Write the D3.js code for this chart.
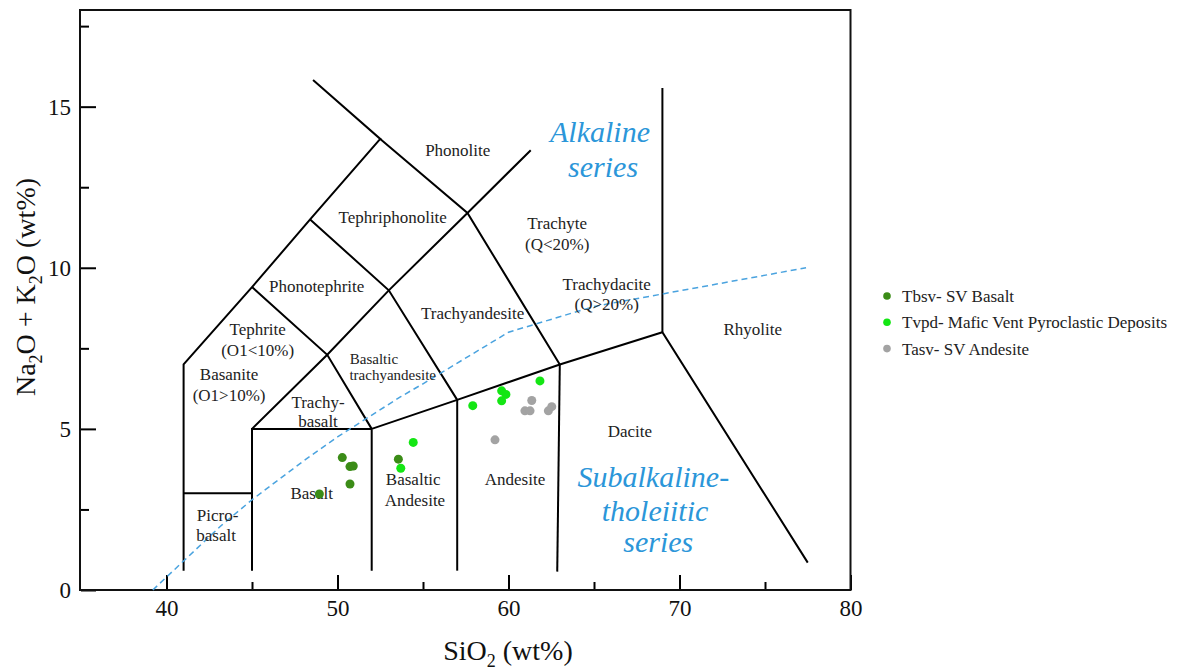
<!DOCTYPE html>
<html>
<head>
<meta charset="utf-8">
<script src="https://cdn.jsdelivr.net/npm/d3@7"></script>
<style>
  body { margin: 0; background: #fff; }
  svg { display: block; font-family: "Liberation Serif", "Times New Roman", serif; }
  svg text { font-family: "Liberation Serif", "Times New Roman", serif; }
</style>
</head>
<body>
<svg id="chart" width="1194" height="671"></svg>
<script>

// sample values (SiO2, Na2O+K2O in wt%)
var tbsvSiO2 = [50.28, 50.73, 50.92, 50.73, 48.94, 53.56];
var tbsvAlk = [4.11, 3.83, 3.85, 3.29, 2.98, 4.06];
var tvpdSiO2 = [54.43, 53.70, 57.91, 59.60, 59.85, 59.60, 61.84];
var tvpdAlk = [4.58, 3.78, 5.72, 6.18, 6.07, 5.87, 6.49];
var tasvSiO2 = [61.36, 60.96, 61.26, 62.33, 62.53, 59.21];
var tasvAlk = [5.88, 5.56, 5.56, 5.56, 5.69, 4.66];

var seriesNames = ["Tbsv- SV Basalt", "Tvpd- Mafic Vent Pyroclastic Deposits", "Tasv- SV Andesite"];
var seriesColors = ["#3b8c17", "#14e614", "#a3a3a3"];

// tick values
var xMajor = [40, 50, 60, 70, 80];
var xMinor = [45, 55, 65, 75];
var yMajor = [0, 5, 10, 15];
var yMinor = [2.5, 7.5, 12.5, 17.5];

// TAS field boundaries (Le Bas et al.)
var tasLines = [
  [[41, 0.6], [41, 7], [45, 9.4], [48.4, 11.5], [52.5, 14], [48.57, 15.83]],
  [[41, 3], [45, 3]],
  [[45, 0.6], [45, 5], [52, 5]],
  [[45, 5], [49.4, 7.3], [53, 9.3], [57.6, 11.7], [61.3, 13.65]],
  [[45, 9.4], [49.4, 7.3], [52, 5]],
  [[48.4, 11.5], [53, 9.3], [57, 5.9]],
  [[52.5, 14], [57.6, 11.7], [63, 7]],
  [[52, 0.6], [52, 5], [57, 5.9], [63, 7], [69, 8], [77.5, 0.85]],
  [[57, 0.6], [57, 5.9]],
  [[62.85, 0.57], [63, 7]],
  [[69, 8], [69, 15.58]]
];

// alkaline / subalkaline divide (Irvine & Baragar)
var divideSiO2 = [39.2, 40, 43.2, 45, 48, 50, 53.7, 55, 60, 65, 77.4];
var divideAlk = [0, 0.4, 2, 2.8, 4, 4.75, 6, 6.4, 8, 8.8, 10];

// field names: text, SiO2, alkali, size
var fieldLabels = [
  ["Phonolite", 57.03, 13.65, 17],
  ["Tephriphonolite", 53.23, 11.58, 17],
  ["Trachyte", 62.85, 11.38, 17],
  ["(Q<20%)", 62.85, 10.75, 17],
  ["Phonotephrite", 48.78, 9.44, 17],
  ["Trachyandesite", 57.9, 8.6, 17],
  ["Trachydacite", 65.74, 9.5, 17],
  ["(Q>20%)", 65.74, 8.88, 17],
  ["Rhyolite", 74.28, 8.09, 17],
  ["Tephrite", 45.33, 8.09, 17],
  ["(O1<10%)", 45.33, 7.45, 17],
  ["Basanite", 43.66, 6.70, 17],
  ["(O1>10%)", 43.66, 6.05, 17],
  ["Basaltic", 52.13, 7.19, 15],
  ["trachyandesite", 53.23, 6.67, 15],
  ["Trachy-", 48.86, 5.84, 17],
  ["basalt", 48.86, 5.25, 17],
  ["Basalt", 48.49, 3.0, 17],
  ["Basaltic", 54.43, 3.44, 17],
  ["Andesite", 54.53, 2.79, 17],
  ["Andesite", 60.38, 3.44, 17],
  ["Dacite", 67.1, 4.93, 17],
  ["Picro-", 42.99, 2.33, 17],
  ["basalt", 42.9, 1.71, 17]
];

var seriesText = [
  ["Alkaline", 65.35, 14.22],
  ["series", 65.53, 13.13],
  ["Subalkaline-", 68.47, 3.52],
  ["tholeiitic", 68.57, 2.48],
  ["series", 68.76, 1.5]
];

var svg = d3.select("#chart");

var x = d3.scaleLinear().domain([35, 80]).range([81, 850.5]);
var y = d3.scaleLinear().domain([0, 18]).range([590, 10]);

// ticks (inward)
svg.append("g")
  .attr("transform", "translate(0,590)")
  .call(d3.axisBottom(x).tickValues(xMajor).tickSize(-15).tickPadding(10))
  .call(function (g) {
    g.select(".domain").remove();
    g.selectAll("line").attr("stroke", "#000").attr("stroke-width", 2);
    g.selectAll("text").attr("font-size", 23).attr("fill", "#111");
  });
svg.append("g")
  .attr("transform", "translate(0,590)")
  .call(d3.axisBottom(x).tickValues(xMinor).tickSize(-8).tickFormat(""))
  .call(function (g) {
    g.select(".domain").remove();
    g.selectAll("line").attr("stroke", "#000").attr("stroke-width", 2);
  });
svg.append("g")
  .attr("transform", "translate(81,0)")
  .call(d3.axisLeft(y).tickValues(yMajor).tickSize(-15).tickPadding(10))
  .call(function (g) {
    g.select(".domain").remove();
    g.selectAll("line").attr("stroke", "#000").attr("stroke-width", 2);
    g.selectAll("text").attr("font-size", 23).attr("fill", "#111");
  });
svg.append("g")
  .attr("transform", "translate(81,0)")
  .call(d3.axisLeft(y).tickValues(yMinor).tickSize(-8).tickFormat(""))
  .call(function (g) {
    g.select(".domain").remove();
    g.selectAll("line").attr("stroke", "#000").attr("stroke-width", 2);
  });

// frame
svg.append("rect")
  .attr("x", x(35) - 1).attr("y", y(18))
  .attr("width", x(80) - x(35) + 1).attr("height", y(0) - y(18))
  .attr("fill", "none").attr("stroke", "#111").attr("stroke-width", 2);

var line = d3.line().x(function (d) { return x(d[0]); }).y(function (d) { return y(d[1]); });

// field boundaries
svg.append("g").selectAll("path")
  .data(tasLines)
  .enter()
  .append("path")
  .attr("d", line)
  .attr("fill", "none")
  .attr("stroke", "#000")
  .attr("stroke-width", 2)
  .attr("stroke-linejoin", "miter");

// dashed divide
var divide = divideSiO2.map(function (s, i) { return [s, divideAlk[i]]; });
svg.append("path")
  .datum(divide)
  .attr("d", line)
  .attr("fill", "none")
  .attr("stroke", "#4aa3df")
  .attr("stroke-width", 1.5)
  .attr("stroke-dasharray", "6,4");

// field names
svg.append("g").selectAll("text")
  .data(fieldLabels)
  .enter()
  .append("text")
  .attr("x", function (d) { return x(d[1]); })
  .attr("y", function (d) { return y(d[2]); })
  .attr("dy", "0.35em")
  .attr("text-anchor", "middle")
  .attr("font-size", function (d) { return d[3]; })
  .attr("fill", "#222")
  .text(function (d) { return d[0]; });

// series names
svg.append("g").selectAll("text")
  .data(seriesText)
  .enter()
  .append("text")
  .attr("x", function (d) { return x(d[1]); })
  .attr("y", function (d) { return y(d[2]); })
  .attr("dy", "0.35em")
  .attr("text-anchor", "middle")
  .attr("font-size", 30)
  .attr("font-style", "italic")
  .attr("fill", "#2b96d9")
  .text(function (d) { return d[0]; });

// samples
var groups = [
  [tbsvSiO2, tbsvAlk],
  [tvpdSiO2, tvpdAlk],
  [tasvSiO2, tasvAlk]
];
var pts = [];
groups.forEach(function (g, k) {
  g[0].forEach(function (s, i) { pts.push({ s: s, a: g[1][i], k: k }); });
});
svg.append("g").selectAll("circle")
  .data(pts)
  .enter()
  .append("circle")
  .attr("cx", function (d) { return x(d.s); })
  .attr("cy", function (d) { return y(d.a); })
  .attr("r", 4.5)
  .attr("fill", function (d) { return seriesColors[d.k]; });

// legend
var legend = svg.append("g").attr("transform", "translate(887,296)");
var items = legend.selectAll("g")
  .data(seriesNames)
  .enter()
  .append("g")
  .attr("transform", function (d, i) { return "translate(0," + (i * 26.3) + ")"; });
items.append("circle")
  .attr("r", 3.8)
  .attr("fill", function (d, i) { return seriesColors[i]; });
items.append("text")
  .attr("x", 15)
  .attr("dy", "0.35em")
  .attr("font-size", 17)
  .attr("fill", "#222")
  .text(function (d) { return d; });

// axis titles
var xt = svg.append("text")
  .attr("x", 508).attr("y", 660)
  .attr("text-anchor", "middle")
  .attr("font-size", 28)
  .attr("fill", "#111");
xt.append("tspan").text("SiO");
xt.append("tspan").attr("font-size", 18).attr("dy", 7).text("2");
xt.append("tspan").attr("dy", -7).text(" (wt%)");

var yt = svg.append("text")
  .attr("transform", "translate(35,287) rotate(-90)")
  .attr("text-anchor", "middle")
  .attr("font-size", 28)
  .attr("fill", "#111");
yt.append("tspan").text("Na");
yt.append("tspan").attr("font-size", 18).attr("dy", 7).text("2");
yt.append("tspan").attr("dy", -7).text("O + K");
yt.append("tspan").attr("font-size", 18).attr("dy", 7).text("2");
yt.append("tspan").attr("dy", -7).text("O (wt%)");

</script>
</body>
</html>
